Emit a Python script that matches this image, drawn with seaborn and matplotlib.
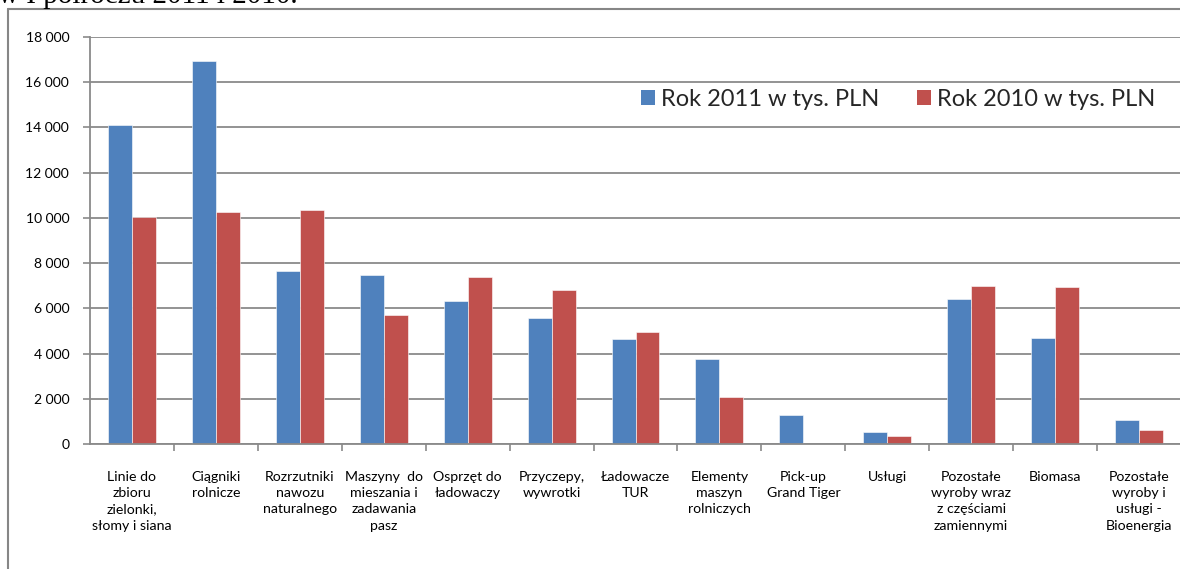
import matplotlib
matplotlib.use("Agg")
import matplotlib.pyplot as plt
import seaborn as sns
import pandas as pd
from matplotlib.ticker import FuncFormatter, FixedLocator
from matplotlib.lines import Line2D
from matplotlib.patches import Patch

categories = [
    "Linie do zbioru zielonki, słomy i siana",
    "Ciągniki rolnicze",
    "Rozrzutniki nawozu naturalnego",
    "Maszyny do mieszania i zadawania pasz",
    "Osprzęt do ładowaczy",
    "Przyczepy, wywrotki",
    "Ładowacze TUR",
    "Elementy maszyn rolniczych",
    "Pick-up Grand Tiger",
    "Usługi",
    "Pozostałe wyroby wraz z częściami zamiennymi",
    "Biomasa",
    "Pozostałe wyroby i usługi - Bioenergia",
]
tick_labels = [
    "Linie do\nzbioru\nzielonki,\nsłomy i siana",
    "Ciągniki\nrolnicze",
    "Rozrzutniki\nnawozu\nnaturalnego",
    "Maszyny  do\nmieszania i\nzadawania\npasz",
    "Osprzęt do\nładowaczy",
    "Przyczepy,\nwywrotki",
    "Ładowacze\nTUR",
    "Elementy\nmaszyn\nrolniczych",
    "Pick-up\nGrand Tiger",
    "Usługi",
    "Pozostałe\nwyroby wraz\nz częściami\nzamiennymi",
    "Biomasa",
    "Pozostałe\nwyroby i\nusługi -\nBioenergia",
]
series_names = ["Rok 2011 w tys. PLN", "Rok 2010 w tys. PLN"]
values_2011 = [14100, 16940, 7650, 7480, 6320, 5560, 4660, 3750, 1290, 530, 6400, 4700, 1085]
values_2010 = [10020, 10240, 10340, 5700, 7380, 6820, 4950, 2090, 0, 370, 6985, 6955, 645]
y_ticks = [0, 2000, 4000, 6000, 8000, 10000, 12000, 14000, 16000, 18000]
colors = ["#4F81BD", "#C0504D"]
title_text = "w I półroczu 2011 i 2010."

df = pd.DataFrame({
    "kategoria": categories * 2,
    "seria": [series_names[0]] * len(categories) + [series_names[1]] * len(categories),
    "wartosc": values_2011 + values_2010,
})

sns.set_theme(style="white")
plt.rcParams["font.family"] = ["Lato", "DejaVu Sans"]

W, H = 1180, 569
fig = plt.figure(figsize=(W / 100, H / 100), dpi=100)
ax = fig.add_axes([90 / W, 1 - 444.3 / H, (1181 - 90) / W, (444.3 - 36.7) / H])

sns.barplot(data=df, x="kategoria", y="wartosc", hue="seria", order=categories,
            hue_order=series_names, palette=colors, width=0.571, gap=0,
            saturation=1, ax=ax, legend=False, errorbar=None,
            edgecolor="white", linewidth=0.4)

grid_c = "#8A8A8A"
ax.set_ylim(0, 18000)
ax.set_xlim(-0.5, len(categories) - 0.5)
ax.yaxis.set_major_locator(FixedLocator(y_ticks))
ax.yaxis.set_major_formatter(FuncFormatter(lambda v, p: f"{int(v):,}".replace(",", " ")))
ax.grid(axis="y", color=grid_c, linewidth=1.3)
ax.set_axisbelow(True)
ax.set_xlabel("")
ax.set_ylabel("")

for s in ["top", "right"]:
    ax.spines[s].set_visible(False)
for s in ["left", "bottom"]:
    ax.spines[s].set_color(grid_c)
    ax.spines[s].set_linewidth(1.3)

ax.set_xticks(range(len(categories)))
ax.set_xticklabels(tick_labels, fontsize=10.2, linespacing=1.43, color="#000000")
ax.set_xticks([i + 0.5 for i in range(len(categories))], minor=True)
ax.tick_params(axis="x", which="major", length=0, pad=19)
ax.tick_params(axis="x", which="minor", length=5, width=1.2, color=grid_c, direction="out", bottom=True)
ax.tick_params(axis="y", length=5, width=1.2, color=grid_c, direction="out", left=True, pad=10,
               labelsize=10, labelcolor="#000000")

handles = [Patch(facecolor=c, edgecolor="none") for c in colors]
fig.legend(handles, series_names, loc="center left",
           bbox_to_anchor=(641 / W, 1 - 99 / H), bbox_transform=fig.transFigure,
           frameon=False, ncol=2, fontsize=17, handlelength=0.6, handleheight=0.6,
           handletextpad=0.25, columnspacing=1.6, borderpad=0, borderaxespad=0)

# outer chart frame (partially cropped in the reference)
fig.add_artist(Line2D([8 / W, 1.0], [1 - 9 / H, 1 - 9 / H], transform=fig.transFigure,
                      color="#868686", linewidth=1.5))
fig.add_artist(Line2D([8 / W, 8 / W], [1 - 9 / H, 0], transform=fig.transFigure,
                      color="#868686", linewidth=1.5))

# document text above the chart, cropped at the top edge as in the reference
fig.text(-2 / W, 1 - 3 / H, title_text, fontsize=21, family=["Liberation Serif", "DejaVu Serif"],
         va="baseline", ha="left", color="#000000")

fig.savefig("out.png", dpi=100)
